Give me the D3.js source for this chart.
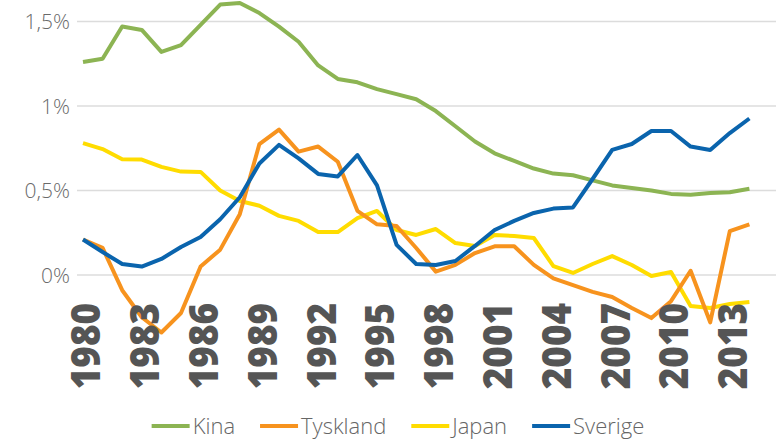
<!DOCTYPE html>
<html lang="sv">
    <head>
        <meta charset="utf-8">
        <title>Kina, Tyskland, Japan, Sverige</title>
        <script type="text/javascript" src="https://d3js.org/d3.v7.min.js"></script>
        <style type="text/css">
            body { margin: 0; background: #fff; }
            .ylab { font-family: "Open Sans", sans-serif; font-weight: 300; font-size: 21px; fill: #6a6a6a; }
            .xlab { font-family: "Open Sans", sans-serif; font-weight: 800; font-size: 40px; fill: #555555; }
            .leg { font-family: "Open Sans", sans-serif; font-weight: 300; font-size: 22px; fill: #666666; }
        </style>
    </head>
    <body>
        <script>

        // Years 1980-2014, values in percent
        var years = d3.range(1980, 2015);

        var kina = [1.26, 1.28, 1.47, 1.45, 1.32, 1.36, 1.48, 1.60, 1.61, 1.55,
                    1.47, 1.38, 1.24, 1.16, 1.14, 1.10, 1.07, 1.04, 0.97, 0.88,
                    0.79, 0.72, 0.675, 0.63, 0.60, 0.59, 0.56, 0.53, 0.515, 0.50,
                    0.48, 0.475, 0.485, 0.49, 0.51];

        var tyskland = [0.21, 0.16, -0.09, -0.25, -0.34, -0.225, 0.05, 0.15, 0.36, 0.775,
                        0.86, 0.73, 0.76, 0.67, 0.38, 0.30, 0.29, 0.16, 0.02, 0.06,
                        0.13, 0.17, 0.17, 0.06, -0.02, -0.06, -0.10, -0.13, -0.195, -0.255,
                        -0.155, 0.025, -0.28, 0.26, 0.30];

        var japan = [0.78, 0.745, 0.685, 0.683, 0.64, 0.612, 0.61, 0.50, 0.438, 0.41,
                     0.35, 0.32, 0.254, 0.254, 0.337, 0.379, 0.266, 0.237, 0.272, 0.189,
                     0.172, 0.237, 0.231, 0.219, 0.053, 0.012, 0.065, 0.112, 0.059, -0.006,
                     0.018, -0.183, -0.195, -0.172, -0.16];

        var sverige = [0.21, 0.136, 0.065, 0.05, 0.095, 0.166, 0.225, 0.33, 0.46, 0.66,
                       0.77, 0.69, 0.598, 0.583, 0.71, 0.53, 0.178, 0.065, 0.059, 0.083,
                       0.172, 0.266, 0.32, 0.367, 0.393, 0.40, 0.568, 0.74, 0.775, 0.852,
                       0.852, 0.76, 0.74, 0.84, 0.926];

        var yTicks = [0, 0.5, 1, 1.5];
        var yTickLabels = ["0%", "0,5%", "1%", "1,5%"];
        var xTicks = d3.range(1980, 2014, 3);

        var series = [
            { name: "Kina", values: kina, color: "#8cb453" },
            { name: "Tyskland", values: tyskland, color: "#f7931e" },
            { name: "Japan", values: japan, color: "#ffdc00" },
            { name: "Sverige", values: sverige, color: "#0a64ad" }
        ];
        // drawing order (blue on top)
        var drawOrder = ["Kina", "Japan", "Tyskland", "Sverige"];

        var w = 776, h = 441;

        var svg = d3.select("body").append("svg")
            .attr("width", w)
            .attr("height", h);

        var x = d3.scaleLinear().domain([1980, 2014]).range([83, 749.4]);
        var y = d3.scaleLinear().domain([0, 1.5]).range([275, 21.5]);

        // Horizontal gridlines
        svg.append("g").selectAll("line")
            .data(yTicks)
            .enter().append("line")
            .attr("x1", 77).attr("x2", w)
            .attr("y1", function(d) { return y(d); })
            .attr("y2", function(d) { return y(d); })
            .style("stroke", "#dcdcdc")
            .style("stroke-width", 1.5);

        // Y labels
        svg.append("g").selectAll("text")
            .data(yTicks)
            .enter().append("text")
            .attr("class", "ylab")
            .attr("x", 70)
            .attr("y", function(d) { return y(d); })
            .attr("dy", "0.36em")
            .attr("text-anchor", "end")
            .text(function(d, i) { return yTickLabels[i]; });

        // Lines
        var line = d3.line()
            .x(function(d, i) { return x(years[i]); })
            .y(function(d) { return y(d); });

        drawOrder.forEach(function(n) {
            var s = series.filter(function(d) { return d.name === n; })[0];
            svg.append("path")
                .datum(s.values)
                .attr("d", line)
                .style("fill", "none")
                .style("stroke", s.color)
                .style("stroke-width", 4)
                .style("stroke-linejoin", "round");
        });

        // X labels, rotated
        svg.append("g").selectAll("text")
            .data(xTicks)
            .enter().append("text")
            .attr("class", "xlab")
            .attr("transform", function(d) { return "translate(" + (x(d) + 3) + ",303) rotate(-90) scale(0.92,1)"; })
            .attr("dy", "0.36em")
            .attr("text-anchor", "end")
            .text(function(d) { return d; });

        // Legend
        var leg = svg.append("g");
        var cx = 0;
        series.forEach(function(s, i) {
            var g = leg.append("g").attr("transform", "translate(" + cx + ",0)");
            g.append("line")
                .attr("x1", 0).attr("x2", 38)
                .attr("y1", 0).attr("y2", 0)
                .style("stroke", s.color)
                .style("stroke-width", 4);
            var t = g.append("text")
                .attr("class", "leg")
                .attr("x", 41)
                .attr("dy", "0.36em")
                .text(s.name);
            cx += 41 + t.node().getComputedTextLength() + 25;
        });
        var legW = cx - 25;
        leg.attr("transform", "translate(" + (398 - legW / 2) + ",426)");

        </script>
    </body>
</html>
